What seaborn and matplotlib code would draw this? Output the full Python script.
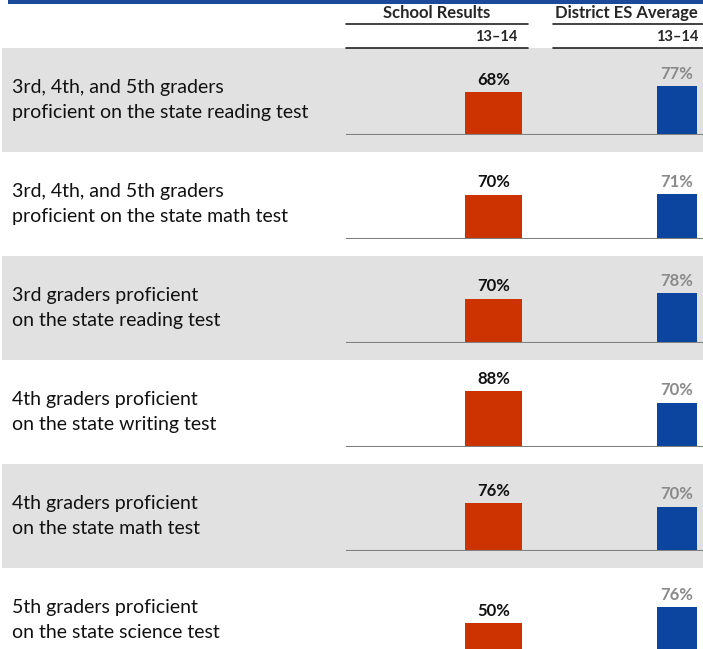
import pandas as pd
import seaborn as sns
import matplotlib.pyplot as plt
from matplotlib.patches import Rectangle
from matplotlib.lines import Line2D

# data
measures = [
    "3rd, 4th, and 5th graders\nproficient on the state reading test",
    "3rd, 4th, and 5th graders\nproficient on the state math test",
    "3rd graders proficient\non the state reading test",
    "4th graders proficient\non the state writing test",
    "4th graders proficient\non the state math test",
    "5th graders proficient\non the state science test",
]
school = [68, 70, 70, 88, 76, 50]
district = [77, 71, 78, 70, 70, 76]
groups = ["School Results", "District ES Average"]
year = "13\u201314"

orange = "#CC3300"
blue = "#0B45A0"
band = "#E1E1E1"

sns.set_theme(style="white")
plt.rcParams['font.family'] = ['Lato', 'DejaVu Sans']

W, H = 703, 649
fig = plt.figure(figsize=(W / 100, H / 100), dpi=100)

def fx(px):
    return px / W

def fy(px):
    return 1 - px / H

# top blue rule
fig.add_artist(Rectangle((fx(8), fy(4)), fx(703 - 8), 4 / H, color="#1C4A9A",
                         transform=fig.transFigure, lw=0))

# header
fig.text(fx(437), fy(13), groups[0], ha="center", va="center", fontsize=12, fontweight="bold")
fig.text(fx(626), fy(13), groups[1], ha="center", va="center", fontsize=12, fontweight="bold")
fig.text(fx(517), fy(37), year, ha="right", va="center", fontsize=10.5, fontweight="bold")
fig.text(fx(698), fy(37), year, ha="right", va="center", fontsize=10.5, fontweight="bold")
for x0, x1 in [(346, 528), (553, 703)]:
    fig.add_artist(Line2D([fx(x0), fx(x1)], [fy(24), fy(24)], color="#222222", lw=1.2,
                          transform=fig.transFigure))
    fig.add_artist(Line2D([fx(x0), fx(x1)], [fy(48), fy(48)], color="#222222", lw=1.2,
                          transform=fig.transFigure))

row_h = 104
px_per_pct = 0.635
for i, label in enumerate(measures):
    top = 48 + row_h * i
    base = top + 87
    if i % 2 == 0:
        fig.add_artist(Rectangle((fx(2), fy(top + row_h)), fx(701), row_h / H, color=band,
                                 transform=fig.transFigure, lw=0, zorder=0))
    fig.text(fx(12), fy(top + row_h / 2), label, ha="left", va="center",
             fontsize=14, linespacing=1.6, color="#111111")

    ax = fig.add_axes([fx(346), fy(base), fx(703 - 346), (base - top) / H])
    df = pd.DataFrame({"group": groups, "value": [school[i], district[i]]})
    sns.barplot(data=df[df.group == groups[0]], x="group", y="value", order=groups,
                color=orange, width=0.311, saturation=1, linewidth=0, ax=ax)
    sns.barplot(data=df[df.group == groups[1]], x="group", y="value", order=groups,
                color=blue, width=0.218, saturation=1, linewidth=0, ax=ax)
    ax.bar_label(ax.containers[0], fmt="%d%%", padding=3, fontsize=12, fontweight="bold",
                 color="#111111")
    ax.bar_label(ax.containers[1], fmt="%d%%", padding=3, fontsize=12, fontweight="bold",
                 color="#8A8A8A")
    ax.axhline(0, color="#808080", lw=1.5)
    ax.set_xlim(-0.804, 1.142)
    ax.set_ylim(0, 87 / px_per_pct)
    ax.set_facecolor("none")
    ax.set_axis_off()

fig.savefig("out.png", dpi=100)
